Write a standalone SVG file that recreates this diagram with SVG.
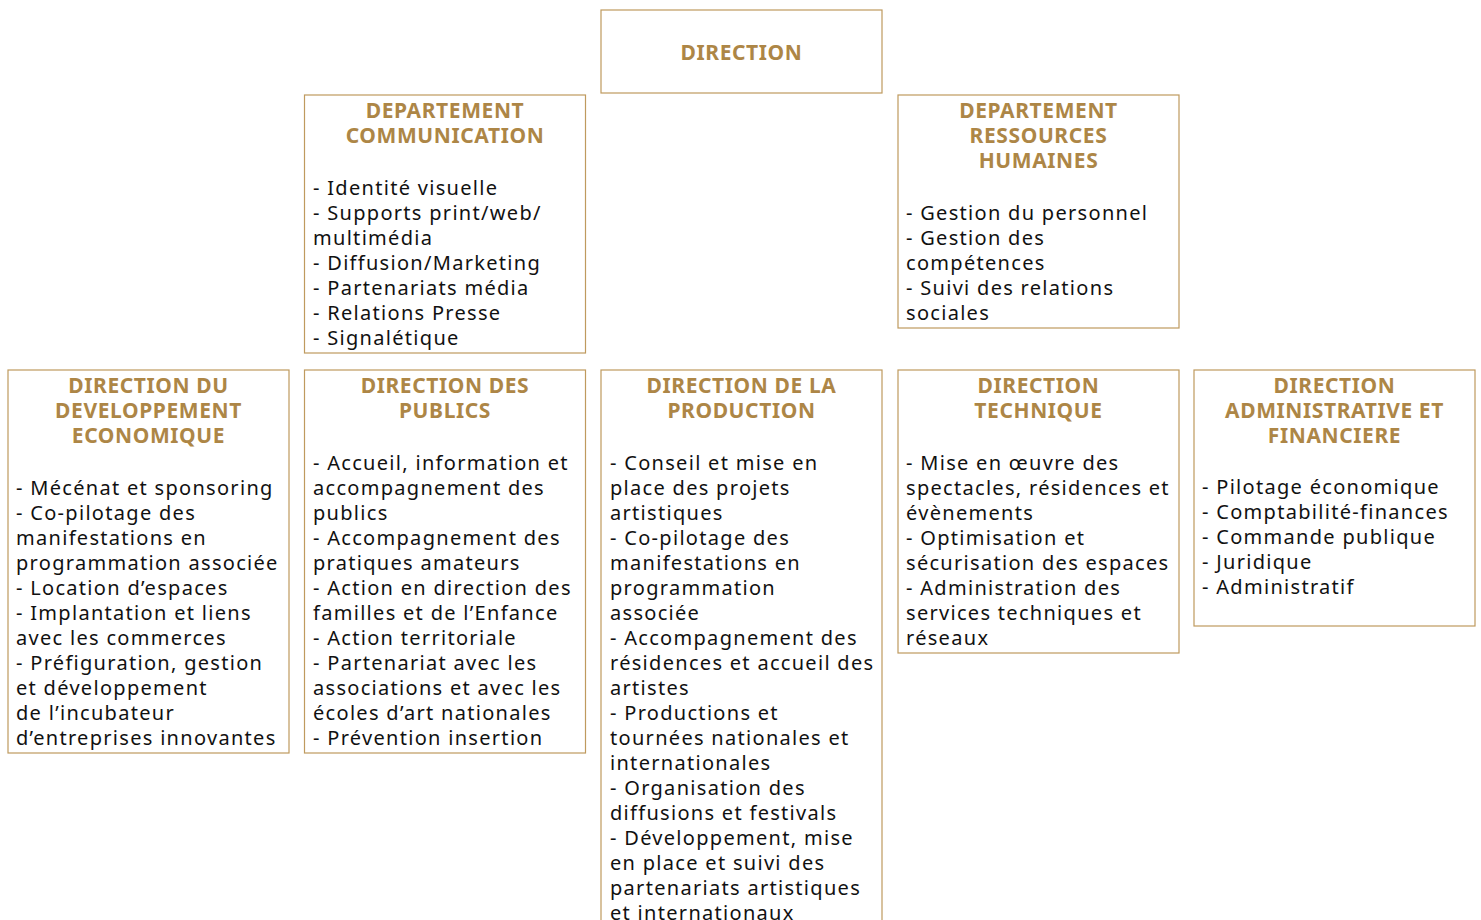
<svg xmlns="http://www.w3.org/2000/svg" width="1481" height="920" viewBox="0 0 1481 920">
<style>
.box{fill:#fff;stroke:#bf9a5e;stroke-width:1.2}
.h{font-family:"Noto Sans","DejaVu Sans",sans-serif;font-weight:700;font-size:21px;fill:#ad8646;text-anchor:middle;letter-spacing:0.6px}
.b{font-family:"Noto Sans","DejaVu Sans",sans-serif;font-size:20px;fill:#111;letter-spacing:1.3px}
</style>
<rect width="1481" height="920" fill="#fff"/>
<g id="connectors"></g>
<g id="direction">
<rect class="box" x="601" y="10" width="281" height="83"/>
<text class="h" x="741.5" y="60">DIRECTION</text>
</g>
<g id="dep-communication">
<rect class="box" x="304.5" y="95" width="281" height="258"/>
<text class="h" x="445" y="118">DEPARTEMENT</text>
<text class="h" x="445" y="143">COMMUNICATION</text>
<text class="b" x="313" y="195">- Identité visuelle</text>
<text class="b" x="313" y="220">- Supports print/web/</text>
<text class="b" x="313" y="245">multimédia</text>
<text class="b" x="313" y="270">- Diffusion/Marketing</text>
<text class="b" x="313" y="295">- Partenariats média</text>
<text class="b" x="313" y="320">- Relations Presse</text>
<text class="b" x="313" y="345">- Signalétique</text>
</g>
<g id="dep-rh">
<rect class="box" x="898" y="95" width="281" height="233"/>
<text class="h" x="1038.5" y="118">DEPARTEMENT</text>
<text class="h" x="1038.5" y="143">RESSOURCES</text>
<text class="h" x="1038.5" y="168">HUMAINES</text>
<text class="b" x="906" y="220">- Gestion du personnel</text>
<text class="b" x="906" y="245">- Gestion des</text>
<text class="b" x="906" y="270">compétences</text>
<text class="b" x="906" y="295">- Suivi des relations</text>
<text class="b" x="906" y="320">sociales</text>
</g>
<g id="dir-dev-eco">
<rect class="box" x="8" y="370" width="281" height="383"/>
<text class="h" x="148.5" y="393">DIRECTION DU</text>
<text class="h" x="148.5" y="418">DEVELOPPEMENT</text>
<text class="h" x="148.5" y="443">ECONOMIQUE</text>
<text class="b" x="16" y="495">- Mécénat et sponsoring</text>
<text class="b" x="16" y="520">- Co-pilotage des</text>
<text class="b" x="16" y="545">manifestations en</text>
<text class="b" x="16" y="570">programmation associée</text>
<text class="b" x="16" y="595">- Location d’espaces</text>
<text class="b" x="16" y="620">- Implantation et liens</text>
<text class="b" x="16" y="645">avec les commerces</text>
<text class="b" x="16" y="670">- Préfiguration, gestion</text>
<text class="b" x="16" y="695">et développement</text>
<text class="b" x="16" y="720">de l’incubateur</text>
<text class="b" x="16" y="745">d’entreprises innovantes</text>
</g>
<g id="dir-publics">
<rect class="box" x="304.5" y="370" width="281" height="383"/>
<text class="h" x="445" y="393">DIRECTION DES</text>
<text class="h" x="445" y="418">PUBLICS</text>
<text class="b" x="313" y="470">- Accueil, information et</text>
<text class="b" x="313" y="495">accompagnement des</text>
<text class="b" x="313" y="520">publics</text>
<text class="b" x="313" y="545">- Accompagnement des</text>
<text class="b" x="313" y="570">pratiques amateurs</text>
<text class="b" x="313" y="595">- Action en direction des</text>
<text class="b" x="313" y="620">familles et de l’Enfance</text>
<text class="b" x="313" y="645">- Action territoriale</text>
<text class="b" x="313" y="670">- Partenariat avec les</text>
<text class="b" x="313" y="695">associations et avec les</text>
<text class="b" x="313" y="720">écoles d’art nationales</text>
<text class="b" x="313" y="745">- Prévention insertion</text>
</g>
<g id="dir-production">
<rect class="box" x="601" y="370" width="281" height="580"/>
<text class="h" x="741.5" y="393">DIRECTION DE LA</text>
<text class="h" x="741.5" y="418">PRODUCTION</text>
<text class="b" x="610" y="470">- Conseil et mise en</text>
<text class="b" x="610" y="495">place des projets</text>
<text class="b" x="610" y="520">artistiques</text>
<text class="b" x="610" y="545">- Co-pilotage des</text>
<text class="b" x="610" y="570">manifestations en</text>
<text class="b" x="610" y="595">programmation</text>
<text class="b" x="610" y="620">associée</text>
<text class="b" x="610" y="645">- Accompagnement des</text>
<text class="b" x="610" y="670">résidences et accueil des</text>
<text class="b" x="610" y="695">artistes</text>
<text class="b" x="610" y="720">- Productions et</text>
<text class="b" x="610" y="745">tournées nationales et</text>
<text class="b" x="610" y="770">internationales</text>
<text class="b" x="610" y="795">- Organisation des</text>
<text class="b" x="610" y="820">diffusions et festivals</text>
<text class="b" x="610" y="845">- Développement, mise</text>
<text class="b" x="610" y="870">en place et suivi des</text>
<text class="b" x="610" y="895">partenariats artistiques</text>
<text class="b" x="610" y="920">et internationaux</text>
</g>
<g id="dir-technique">
<rect class="box" x="898" y="370" width="281" height="283"/>
<text class="h" x="1038.5" y="393">DIRECTION</text>
<text class="h" x="1038.5" y="418">TECHNIQUE</text>
<text class="b" x="906" y="470">- Mise en œuvre des</text>
<text class="b" x="906" y="495">spectacles, résidences et</text>
<text class="b" x="906" y="520">évènements</text>
<text class="b" x="906" y="545">- Optimisation et</text>
<text class="b" x="906" y="570">sécurisation des espaces</text>
<text class="b" x="906" y="595">- Administration des</text>
<text class="b" x="906" y="620">services techniques et</text>
<text class="b" x="906" y="645">réseaux</text>
</g>
<g id="dir-admin-fin">
<rect class="box" x="1194" y="370" width="281" height="256"/>
<text class="h" x="1334.5" y="393">DIRECTION</text>
<text class="h" x="1334.5" y="418">ADMINISTRATIVE ET</text>
<text class="h" x="1334.5" y="443">FINANCIERE</text>
<text class="b" x="1202" y="494">- Pilotage économique</text>
<text class="b" x="1202" y="519">- Comptabilité-finances</text>
<text class="b" x="1202" y="544">- Commande publique</text>
<text class="b" x="1202" y="569">- Juridique</text>
<text class="b" x="1202" y="594">- Administratif</text>
</g>
</svg>
